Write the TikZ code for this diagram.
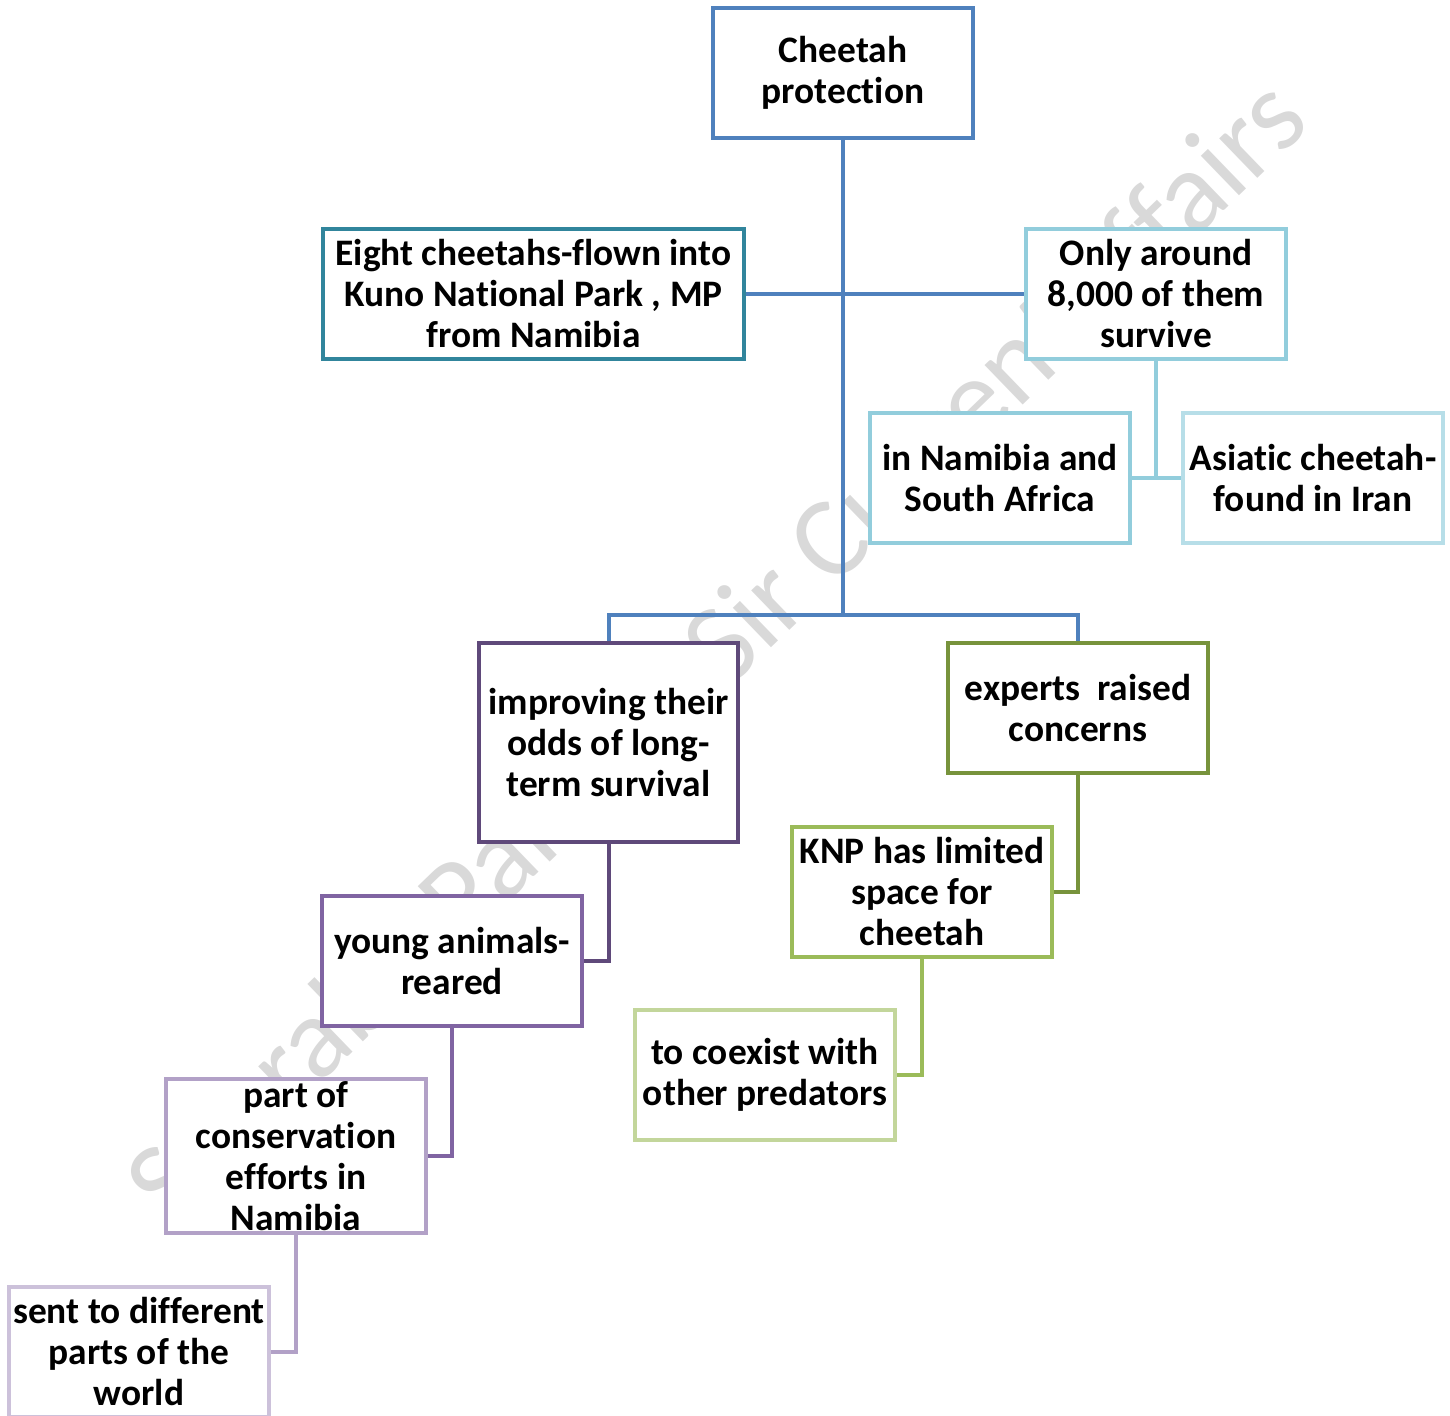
\documentclass[tikz,border=0pt]{standalone}
\usepackage{fontspec}
\setmainfont[Ligatures={NoCommon}]{Carlito}
\definecolor{cblue}{HTML}{4F81BD}
\definecolor{cteal}{HTML}{31859C}
\definecolor{clblue}{HTML}{92CDDC}
\definecolor{cllblue}{HTML}{B7DEE8}
\definecolor{cdpurple}{HTML}{5F497A}
\definecolor{cpurple}{HTML}{8064A2}
\definecolor{clpurple}{HTML}{B2A1C7}
\definecolor{cllpurple}{HTML}{CCC1DA}
\definecolor{colive}{HTML}{77933C}
\definecolor{cgreen}{HTML}{9BBB59}
\definecolor{clgreen}{HTML}{C3D69B}
\definecolor{cwm}{HTML}{D9D9D9}
\tikzset{
  box/.style={draw, fill=white, line width=2pt, inner sep=0pt, align=center,
    minimum width=130pt, minimum height=65pt,
    font=\bfseries\fontsize{18.7}{20.5}\selectfont},
  conn/.style={line width=2pt}
}
\begin{document}
\begin{tikzpicture}[x=0.5pt,y=-0.5pt]
\useasboundingbox (0,0) rectangle (1450,1416);
\node[text=cwm, rotate=44, font=\fontsize{57.5}{65}\selectfont] (wm) at (720,655) {Saurabh Pandey Sir Current affairs};
% boxes
\node[box, draw=cblue] (cp) at (843,73) {Cheetah\\protection};
\node[box, draw=cteal, minimum width=210.5pt] (eight) at (533.5,294) {Eight cheetahs-flown into\\Kuno National Park , MP\\from Namibia};
\node[box, draw=clblue] (only) at (1156,294) {Only around\\8,000 of them\\survive};
\node[box, draw=clblue] (nam) at (1000,478) {in Namibia and\\South Africa};
\node[box, draw=cllblue] (asia) at (1313,478) {Asiatic cheetah-\\found in Iran};
\node[box, draw=cdpurple, minimum width=129.5pt, minimum height=99.5pt] (imp) at (608.5,742.5) {improving their\\odds of long-\\term survival};
\node[box, draw=colive] (exp) at (1078,708) {experts~ raised\\concerns};
\node[box, draw=cgreen] (knp) at (922,892) {KNP has limited\\space for\\cheetah};
\node[box, draw=cpurple] (young) at (452,961) {young animals-\\reared};
\node[box, draw=clgreen] (coex) at (765,1075) {to coexist with\\other predators};
\node[box, draw=clpurple, minimum height=77pt] (part) at (296,1156) {part of\\conservation\\efforts in\\Namibia};
\node[box, draw=cllpurple] (sent) at (139,1352) {sent to different\\parts of the\\world};
% connectors
\coordinate (bar) at (843,615);
\draw[conn, cblue] (cp.south) -- (bar);
\draw[conn, cblue] (bar) -| (imp.north);
\draw[conn, cblue] (bar) -| (exp.north);
\draw[conn, cblue] (eight.east) -- (only.west);
\draw[conn, clblue] (only.south) -- (only.south |- nam.east);
\draw[conn, clblue] (nam.east) -- (asia.west);
\draw[conn, cdpurple] (imp.south) |- (young.east);
\draw[conn, cpurple] (young.south) |- (part.east);
\draw[conn, clpurple] (part.south) |- (sent.east);
\draw[conn, colive] (exp.south) |- (knp.east);
\draw[conn, cgreen] (knp.south) |- (coex.east);
\end{tikzpicture}
\end{document}
